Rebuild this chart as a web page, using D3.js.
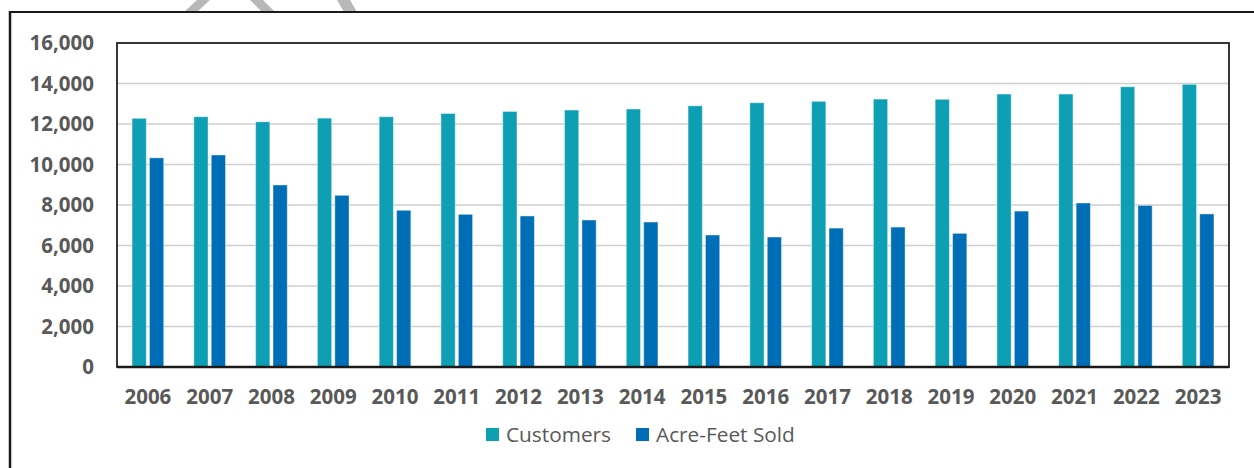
<!DOCTYPE html>
<html>
<head>
<meta charset="utf-8">
<script src="https://cdn.jsdelivr.net/npm/d3@7"></script>
<style>
  html, body { margin: 0; padding: 0; background: #fff; }
  svg { display: block; }
</style>
</head>
<body>
<svg id="chart" width="1254" height="468"></svg>
<script>
const years = ["2006","2007","2008","2009","2010","2011","2012","2013","2014","2015","2016","2017","2018","2019","2020","2021","2022","2023"];
const seriesNames = ["Customers", "Acre-Feet Sold"];
const customers = [12280, 12360, 12110, 12290, 12360, 12520, 12620, 12690, 12740, 12900, 13050, 13120, 13230, 13220, 13480, 13480, 13840, 13960];
const acreFeetSold = [10330, 10470, 8990, 8480, 7740, 7540, 7460, 7260, 7160, 6520, 6420, 6860, 6910, 6600, 7700, 8100, 7980, 7560];
const yTicks = [0, 2000, 4000, 6000, 8000, 10000, 12000, 14000, 16000];
const colors = ["#0e9fb5", "#006eb6"];

const svg = d3.select("#chart");
const plotL = 117, plotR = 1229, plotT = 43, plotB = 367;

// decorative watermark fragments
const wm = svg.append("g").attr("fill", "#b8b8b8");
wm.append("polygon").attr("points", "197,0 210,0 197,12 184,12");
wm.append("polygon").attr("points", "250,0 263,0 275,12 262,12");
wm.append("polygon").attr("points", "337,0 350,0 357,12 344,12");

// outer frame
svg.append("line").attr("x1", 10).attr("x2", 1254).attr("y1", 12).attr("y2", 12)
  .attr("stroke", "#1a1a1a").attr("stroke-width", 2);
svg.append("line").attr("x1", 10).attr("x2", 10).attr("y1", 11).attr("y2", 468)
  .attr("stroke", "#1a1a1a").attr("stroke-width", 2.5);

const x0 = d3.scaleBand().domain(years).range([plotL, plotR]).paddingInner(0.487).paddingOuter(0.2435);
const x1 = d3.scaleBand().domain(seriesNames).range([0, x0.bandwidth()]).paddingInner(0.18);
const y = d3.scaleLinear().domain([0, 16000]).range([plotB, plotT]);

// gridlines
svg.append("g").selectAll("line").data(yTicks.filter(d => d > 0 && d < 16000)).join("line")
  .attr("x1", plotL).attr("x2", plotR)
  .attr("y1", d => y(d)).attr("y2", d => y(d))
  .attr("stroke", "#cfcfcf").attr("stroke-width", 1.5);

// bars
const data = [customers, acreFeetSold];
seriesNames.forEach((s, si) => {
  svg.append("g").selectAll("rect").data(years).join("rect")
    .attr("x", (d) => x0(d) + x1(s))
    .attr("width", x1.bandwidth())
    .attr("y", (d, i) => y(data[si][i]))
    .attr("height", (d, i) => y(0) - y(data[si][i]))
    .attr("fill", colors[si])
    .attr("stroke", "rgba(255,255,255,0.45)")
    .attr("stroke-width", 1);
});

// plot border
svg.append("rect").attr("x", plotL).attr("y", plotT).attr("width", plotR - plotL).attr("height", plotB - plotT)
  .attr("fill", "none").attr("stroke", "#222").attr("stroke-width", 1.8);
svg.append("line").attr("x1", plotL).attr("x2", plotR).attr("y1", plotB).attr("y2", plotB)
  .attr("stroke", "#1a1a1a").attr("stroke-width", 2.5);

// y axis labels
const yAxis = d3.axisLeft(y).tickValues(yTicks).tickFormat(d3.format(",")).tickSize(0).tickPadding(23);
const gy = svg.append("g").attr("transform", `translate(${plotL},0)`).call(yAxis);
gy.select(".domain").remove();
gy.selectAll("text").attr("fill", "#595959").attr("font-family", "'Open Sans', sans-serif")
  .attr("font-weight", "bold").attr("font-size", "20.5px");

// x axis labels
const xAxis = d3.axisBottom(x0).tickSize(0).tickPadding(22);
const gx = svg.append("g").attr("transform", `translate(0,${plotB})`).call(xAxis);
gx.select(".domain").remove();
gx.selectAll("text").attr("fill", "#595959").attr("font-family", "'Open Sans', sans-serif")
  .attr("font-weight", "bold").attr("font-size", "20.5px");

// legend
const legendX = [486, 636];
const lg = svg.append("g");
seriesNames.forEach((s, i) => {
  lg.append("rect").attr("x", legendX[i]).attr("y", 428).attr("width", 13).attr("height", 13).attr("fill", colors[i]);
  lg.append("text").attr("x", legendX[i] + 20).attr("y", 442).text(s)
    .attr("fill", "#595959").attr("font-family", "'Open Sans', sans-serif").attr("font-size", "20.8px");
});
</script>
</body>
</html>
